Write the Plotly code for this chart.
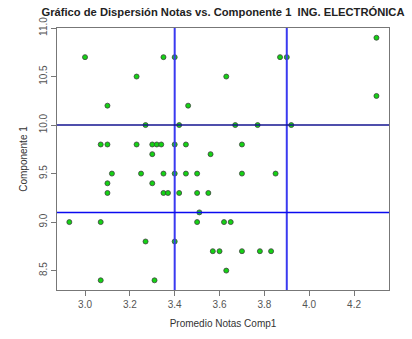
import plotly.graph_objects as go

# Promedio de notas (Comp1) and componente 1 score per student
promedio = [3.00, 3.35, 3.40, 3.87, 3.90, 4.30, 3.23, 3.63, 3.10, 3.46, 4.30,
            3.27, 3.42, 3.67, 3.77, 3.92,
            3.07, 3.10, 3.23, 3.30, 3.32, 3.34, 3.40, 3.45, 3.70,
            3.30, 3.56,
            3.12, 3.25, 3.35, 3.40, 3.45, 3.50, 3.70, 3.85,
            3.10, 3.30,
            3.10, 3.35, 3.37, 3.42, 3.50, 3.55,
            3.51,
            2.93, 3.07, 3.50, 3.62, 3.65,
            3.27, 3.40,
            3.57, 3.60, 3.70, 3.78, 3.83,
            3.63,
            3.07, 3.31]
componente = [10.7, 10.7, 10.7, 10.7, 10.7, 10.9, 10.5, 10.5, 10.2, 10.2, 10.3,
              10.0, 10.0, 10.0, 10.0, 10.0,
              9.8, 9.8, 9.8, 9.8, 9.8, 9.8, 9.8, 9.8, 9.8,
              9.7, 9.7,
              9.5, 9.5, 9.5, 9.5, 9.5, 9.5, 9.5, 9.5,
              9.4, 9.4,
              9.3, 9.3, 9.3, 9.3, 9.3, 9.3,
              9.1,
              9.0, 9.0, 9.0, 9.0, 9.0,
              8.8, 8.8,
              8.7, 8.7, 8.7, 8.7, 8.7,
              8.5,
              8.4, 8.4]

# reference cut lines
corte_x = [3.4, 3.9]
corte_y = [10.0, 9.1]

x_ticks = [3.0, 3.2, 3.4, 3.6, 3.8, 4.0, 4.2]
y_ticks = [8.5, 9.0, 9.5, 10.0, 10.5, 11.0]

fig = go.Figure()
fig.add_trace(go.Scatter(
    x=promedio, y=componente, mode="markers",
    marker=dict(size=5, color="#14d214", line=dict(color="#404040", width=0.8)),
    showlegend=False, hoverinfo="x+y",
))

shapes = []
for v in corte_x:
    shapes.append(dict(type="line", xref="x", yref="paper", x0=v, x1=v, y0=0, y1=1,
                       line=dict(color="#3a3af0", width=2), layer="above"))
shapes.append(dict(type="line", xref="paper", yref="y", x0=0, x1=1, y0=corte_y[0], y1=corte_y[0],
                   line=dict(color="#141490", width=1.5), layer="above"))
shapes.append(dict(type="line", xref="paper", yref="y", x0=0, x1=1, y0=corte_y[1], y1=corte_y[1],
                   line=dict(color="#0a0af0", width=1.5), layer="above"))

fig.update_layout(
    width=412, height=339,
    margin=dict(l=57, r=23, t=28, b=47),
    paper_bgcolor="white", plot_bgcolor="white",
    shapes=shapes,
    font=dict(family="Liberation Sans, Arial, sans-serif", size=10, color="#444"),
    title=dict(
        text="<b>Gráfico de Dispersión Notas vs. Componente 1  ING. ELECTRÓNICA</b>",
        x=0.5, xref="paper", xanchor="center",
        y=1 - 12 / 339, yref="container", yanchor="middle",
        font=dict(family="Liberation Sans, Arial, sans-serif", size=11.2, color="#222"),
    ),
    xaxis=dict(
        range=[2.875, 4.356], tickvals=x_ticks, ticktext=[f"{v:.1f}" for v in x_ticks],
        showgrid=False, zeroline=False,
        showline=True, linecolor="#777", linewidth=1, mirror=True,
        ticks="outside", ticklen=5, tickcolor="#777",
        tickfont=dict(size=10, color="#555"),
        title=dict(text="Promedio Notas Comp1", standoff=10,
                   font=dict(size=10, color="#333")),
    ),
    yaxis=dict(
        range=[8.3, 11.0005], tickvals=y_ticks, ticktext=[f"{v:.1f}" for v in y_ticks],
        tickangle=-90,
        showgrid=False, zeroline=False,
        showline=True, linecolor="#777", linewidth=1, mirror=True,
        ticks="outside", ticklen=5, tickcolor="#777",
        tickfont=dict(size=10, color="#555"),
        title=dict(text="Componente 1", standoff=8,
                   font=dict(size=10, color="#333")),
    ),
)

fig.write_html("out.html")
